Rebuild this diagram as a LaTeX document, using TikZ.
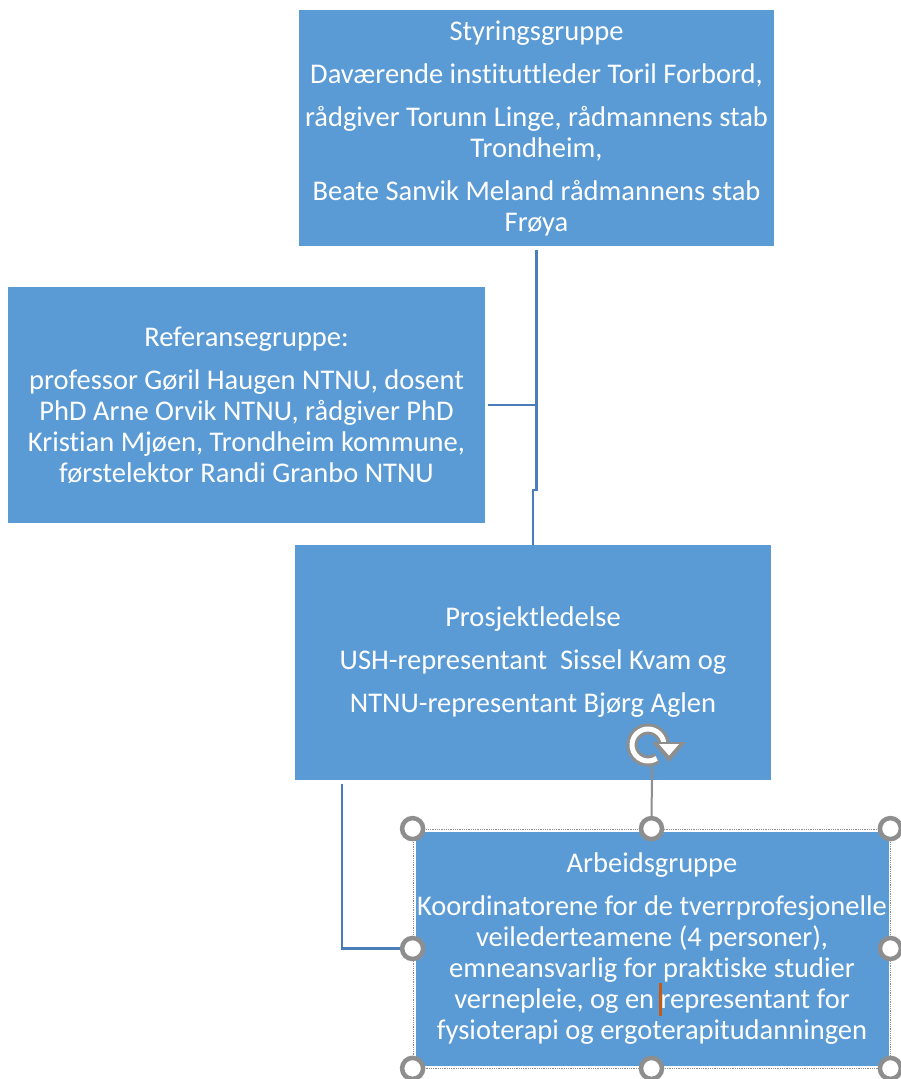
\documentclass[tikz,border=0pt]{standalone}
\usepackage{fontspec}
\setmainfont[Ligatures=NoCommon]{Carlito}
\usetikzlibrary{arrows.meta,calc}
\definecolor{boxblue}{HTML}{5B9BD5}
\definecolor{connblue}{HTML}{4A7EBB}
\definecolor{handlegray}{HTML}{8E8E8E}
\definecolor{cursorcol}{HTML}{C55A11}
\tikzset{
  box/.style={fill=boxblue, text=white, align=center, inner sep=0pt,
    font=\fontsize{28.5}{31}\selectfont},
  conn/.style={draw=connblue, line width=2.8pt},
  handle/.style={circle, draw=handlegray, fill=white, line width=4.5pt,
    minimum size=21pt, inner sep=0pt},
  selframe/.style={draw=handlegray, line width=0.8pt, densely dotted},
}
\begin{document}
\begin{tikzpicture}[x=1pt,y=-1pt]
\useasboundingbox (0,0) rectangle (900,1079);
\fill[white] (0,0) rectangle (900,1079);

% boxes
\node[box, minimum width=475pt, minimum height=236pt] (styr) at (536.5,128)
  {Styringsgruppe\\[12pt]
   Daværende instituttleder Toril Forbord,\\[12pt]
   rådgiver Torunn Linge, rådmannens stab\\ Trondheim,\\[12pt]
   Beate Sanvik Meland rådmannens stab\\ Frøya};
\node[box, minimum width=477pt, minimum height=236pt] (ref) at (246.5,405)
  {Referansegruppe:\\[12pt]
   professor Gøril Haugen NTNU, dosent\\
   PhD Arne Orvik NTNU, rådgiver PhD\\
   Kristian Mjøen, Trondheim kommune,\\
   førstelektor Randi Granbo NTNU};
\node[box, minimum width=476pt, minimum height=235pt] (pros) at (533,662.5)
  {Prosjektledelse\\[12pt]
   USH-representant\ \ Sissel Kvam og\\[12pt]
   NTNU-representant Bjørg Aglen};
\node[box, minimum width=473pt, minimum height=234pt] (arb) at (652,948.5)
  {Arbeidsgruppe\\[12pt]
   Koordinatorene for de tverrprofesjonelle\\
   veilederteamene (4 personer),\\
   emneansvarlig for praktiske studier\\
   vernepleie, og en \makebox[0pt]{\textcolor{cursorcol}{\rule[-0.25em]{2.6pt}{1.15em}}}representant for\\
   fysioterapi og ergoterapitudanningen};

% connectors
\coordinate (jog) at (0,490);
\coordinate (c3) at (342,784);
\draw[conn] ([yshift=-4pt]styr.south) -- (styr.south |- jog) -| (pros.north);
\draw[conn] ([xshift=3pt]ref.east) -- (ref.east -| styr.south);
\draw[conn] (c3) |- ([xshift=-12pt]arb.west);

% selection frame and handles
\node[selframe, minimum width=477pt, minimum height=239pt, inner sep=0pt] (sel) at (651.5,948.5) {};
\coordinate (rot) at (648,745);
\draw[handlegray, line width=2pt] (652,764) -- (sel.north);
\foreach \a/\n in {north west/h1, north/h2, north east/h3, west/h4, east/h5,
                   south west/h6, south/h7, south east/h8}
  \node[handle] (\n) at (sel.\a) {};

% rotation handle
\begin{scope}[shift={(rot)}, yscale=-1]
  \draw[handlegray, line width=11pt] (8:16) arc[start angle=8, end angle=305, radius=16];
  \draw[white, line width=5pt] (8:16) arc[start angle=8, end angle=303, radius=16];
  \fill[handlegray] (4,3) -- (38,3) -- (21,-17) -- cycle;
  \fill[white] (11,1) -- (31,1) -- (21,-10.5) -- cycle;
\end{scope}
\end{tikzpicture}
\end{document}
